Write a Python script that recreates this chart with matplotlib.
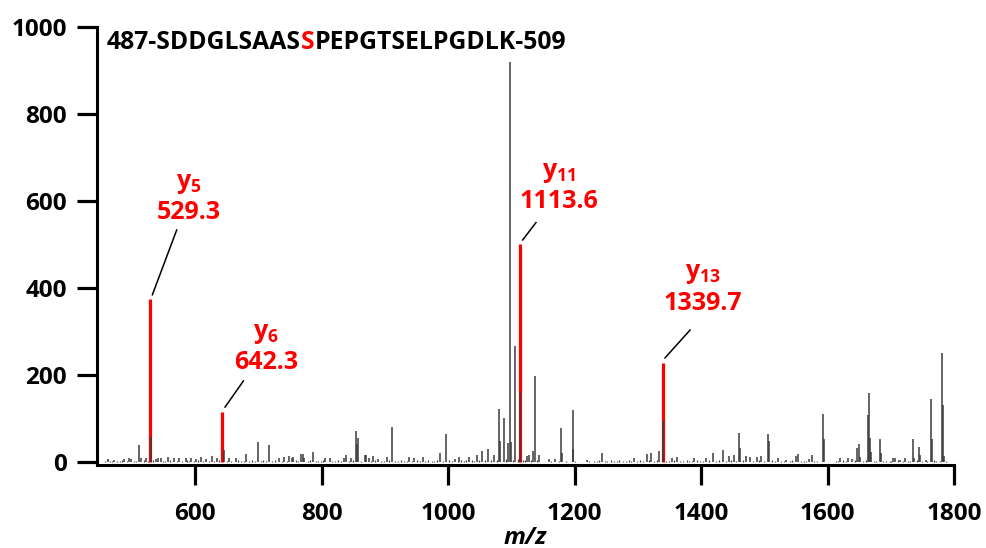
import matplotlib
matplotlib.use("Agg")
import matplotlib.pyplot as plt
from matplotlib.offsetbox import TextArea, HPacker, AnnotationBbox

plt.rcParams['font.family'] = ['Open Sans', 'DejaVu Sans']
plt.rcParams['mathtext.fontset'] = 'custom'
plt.rcParams['mathtext.rm'] = 'Open Sans:bold'
plt.rcParams['mathtext.it'] = 'Open Sans:bold'
plt.rcParams['mathtext.bf'] = 'Open Sans:bold'

# fragment ions (y-series), m/z and intensity
ion_names = ["5", "6", "11", "13"]
ion_mz = [529.3, 642.3, 1113.6, 1339.7]
ion_int = [374, 114, 501, 227]

# other spectrum peaks
peak_mz = [462, 472, 488, 495.6, 499, 511.5, 515, 523, 530, 539, 541, 546, 557, 567,
           575, 585, 594, 602, 609, 618, 627, 634, 646, 653, 664, 681, 699, 717, 733,
           741, 749, 753, 755.5, 767.5, 770, 773, 786.5, 806, 813, 835.5, 839, 846.5,
           855, 856.5, 858, 868, 871, 875, 881, 890, 903, 912, 939, 946, 960, 987, 997,
           1011, 1017, 1033, 1045, 1054, 1063, 1073, 1080.5, 1082.5, 1088.5, 1095,
           1097.5, 1099, 1106.5, 1114.5, 1125, 1128, 1135, 1137.5, 1143, 1160, 1169,
           1179, 1180, 1197, 1198, 1219, 1243, 1294, 1314, 1321, 1334, 1340.5, 1354,
           1362.5, 1389, 1408, 1418.5, 1435, 1444, 1452, 1460, 1462, 1470.5, 1477,
           1488, 1494.5, 1505.5, 1507.5, 1522, 1535, 1550, 1553, 1570, 1575, 1593,
           1594.5, 1620, 1633, 1639, 1646, 1649, 1651, 1664, 1665, 1666.5, 1669, 1683,
           1684.5, 1704, 1707, 1715, 1723, 1734.5, 1737, 1745, 1746.5, 1755, 1763,
           1764.5, 1781, 1782.5, 1784]
peak_int = [6, 5, 6, 8, 7, 40, 9, 8, 58, 7, 9, 8, 12, 10,
            8, 10, 8, 7, 12, 7, 14, 9, 27, 10, 9, 18, 46, 40, 8,
            11, 14, 10, 11, 18, 19, 8, 23, 8, 10, 10, 15, 8,
            72, 42, 54, 15, 17, 8, 14, 7, 11, 80, 11, 9, 11, 20, 64,
            6, 11, 11, 16, 26, 29, 16, 121, 49, 100, 43,
            920, 46, 266, 160, 14, 15, 24, 198, 16, 7, 7,
            79, 20, 119, 30, 5, 20, 9, 18, 20, 26, 93, 8,
            11, 9, 10, 20, 28, 14, 16, 67, 32, 14, 11,
            11, 14, 64, 49, 9, 5, 14, 18, 7, 16, 109,
            52, 10, 8, 7, 31, 41, 12, 108, 159, 56, 23, 53,
            20, 8, 8, 5, 8, 53, 8, 35, 16, 5, 145,
            53, 250, 130, 14]

# low-level baseline signal
noise_mz = [458, 466, 469, 477, 481, 484, 492, 503, 507, 519, 526, 534, 550, 553, 561,
            571, 579, 588, 591, 598, 605, 613, 622, 630, 638, 650, 657, 668, 672, 677,
            686, 690, 694, 704, 708, 712, 721, 726, 737, 745, 759, 763, 778, 782, 791,
            795, 799, 803, 817, 821, 826, 830, 843, 850, 862, 878, 885, 894, 898, 907,
            916, 921, 926, 931, 935, 943, 951, 955, 964, 969, 974, 978, 983, 992, 1002,
            1006, 1015, 1021, 1025, 1029, 1038, 1041, 1049, 1058, 1068, 1077, 1091,
            1102, 1110, 1118, 1121, 1131, 1140, 1163, 1175, 1186, 1201, 1223, 1230,
            1236, 1239, 1248, 1252, 1257, 1262, 1267, 1271, 1276, 1281, 1286, 1290,
            1298, 1303, 1308, 1318, 1326, 1330, 1345, 1349, 1358, 1367, 1372, 1377,
            1381, 1385, 1393, 1398, 1403, 1413, 1423, 1428, 1440, 1448, 1456, 1466,
            1482, 1491, 1499, 1512, 1517, 1527, 1531, 1540, 1544, 1558, 1562, 1566,
            1579, 1584, 1613, 1617, 1625, 1629, 1643, 1656, 1660, 1673, 1677, 1688,
            1692, 1698, 1701, 1711, 1719, 1727, 1730, 1741, 1750, 1758, 1768, 1772,
            1777, 1788]
noise_int = [2, 3, 2, 3, 2, 4, 3, 2, 3, 4, 3, 4, 3, 2, 4,
             3, 2, 4, 3, 2, 4, 3, 3, 2, 4, 3, 2, 4, 3, 2,
             3, 4, 2, 3, 4, 2, 3, 4, 3, 2, 4, 3, 3, 4, 2,
             3, 2, 4, 3, 2, 4, 3, 3, 4, 2, 3, 4, 3, 2, 4,
             3, 2, 4, 3, 2, 3, 4, 2, 3, 4, 3, 2, 4, 3, 4,
             3, 2, 4, 3, 5, 4, 3, 5, 4, 5, 4, 6,
             5, 6, 5, 4, 5, 4, 3, 2, 2, 3, 2, 3,
             2, 4, 3, 2, 4, 3, 2, 4, 3, 2, 4, 3,
             2, 4, 3, 4, 3, 5, 3, 2, 4, 3, 2, 4,
             3, 2, 4, 3, 2, 4, 3, 4, 3, 4, 3, 4,
             3, 4, 3, 4, 3, 2, 3, 2, 4, 3, 2, 3,
             2, 3, 3, 2, 4, 3, 4, 3, 4, 3, 2, 3,
             2, 3, 2, 4, 3, 2, 3, 4, 3, 2, 4, 3,
             2, 2]

# label placement for each ion: centre of the m/z text and leader line ends
label_x = [590, 712, 1175.5, 1403]
label_y = [573, 228, 599, 365]
leader_x = [[571, 532.5], [676.4, 647.4], [1139, 1118], [1382.6, 1343]]
leader_y = [[533, 384], [186, 126], [550, 510], [303, 239]]

fig = plt.figure(figsize=(9.86, 5.48), dpi=100)
ax = fig.add_axes([0.0984, 0.1515, 0.8692, 0.7998])

ax.vlines(noise_mz, 0, noise_int, color='#444444', lw=0.9)
ax.vlines(ion_mz, 0, ion_int, color='#ff0000', lw=2.3)
ax.vlines(peak_mz, 0, peak_int, color='#3a3a3a', lw=1.1)

for i in range(len(ion_mz)):
    ax.plot(leader_x[i], leader_y[i], color='black', lw=1.1)
    ax.text(label_x[i], label_y[i] + 67, "y$_{%s}$" % ion_names[i], color='#ff0000',
            fontsize=18, fontweight='bold', ha='center', va='center')
    ax.text(label_x[i], label_y[i], "%.1f" % ion_mz[i], color='#ff0000',
            fontsize=18, fontweight='bold', ha='center', va='center')

# peptide sequence with the phosphorylated serine in red
tp = dict(fontsize=17.8, fontweight='bold', color='black')
parts = [TextArea("487-SDDGLSAAS", textprops=tp),
         TextArea("S", textprops=dict(tp, color='#ff0000')),
         TextArea("PEPGTSELPGDLK-509", textprops=tp)]
seq = HPacker(children=parts, align='baseline', pad=0, sep=0)
ab = AnnotationBbox(seq, (0.0117, 0.963), xycoords='axes fraction',
                    box_alignment=(0, 0.5), frameon=False, pad=0)
ax.add_artist(ab)

ax.set_xlim(445, 1800)
ax.set_ylim(-7, 1000)
ax.set_xticks([600, 800, 1000, 1200, 1400, 1600, 1800])
ax.set_yticks([0, 200, 400, 600, 800, 1000])
ax.spines['top'].set_visible(False)
ax.spines['right'].set_visible(False)
ax.spines['left'].set_linewidth(2.2)
ax.spines['bottom'].set_linewidth(2.2)
ax.tick_params(length=14.5, width=2.3, labelsize=17.5)
ax.tick_params(axis='x', pad=12)
ax.tick_params(axis='y', pad=7)
for lab in ax.get_xticklabels() + ax.get_yticklabels():
    lab.set_fontweight('bold')
ax.set_xlabel("m/z", fontsize=17.5, fontweight='bold', fontstyle='italic', labelpad=0)

fig.savefig("out.png", dpi=100)
